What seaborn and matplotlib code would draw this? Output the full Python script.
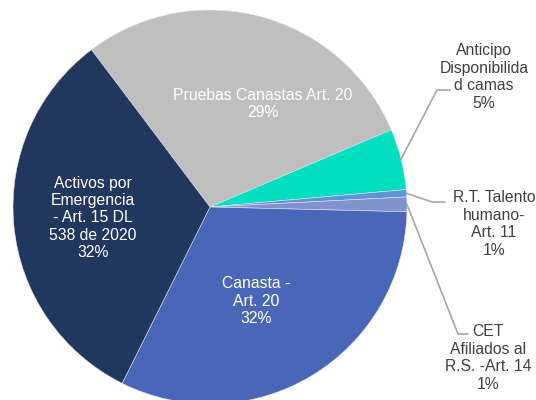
import numpy as np
import matplotlib
matplotlib.use("Agg")
from matplotlib import pyplot as plt
import seaborn as sns

# data, clockwise starting from the gray slice
labels = ["Pruebas Canastas Art. 20", "Anticipo\nDisponibilida\nd camas",
          "R.T. Talento\nhumano-\nArt. 11", "CET\nAfiliados al\nR.S. -Art. 14",
          "Canasta -\nArt. 20", "Activos por\nEmergencia\n- Art. 15 DL\n538 de 2020"]
shares = [28.9, 5.0, 0.6, 1.2, 32.0, 32.4]
pct_labels = ["29%", "5%", "1%", "1%", "32%", "32%"]
colors = ["#BFBFBF", "#00DFC0", "#5B95D6", "#8193CE", "#4A66B8", "#22375E"]

sns.set_theme(style="white")
plt.rcParams["font.family"] = ["Liberation Sans", "DejaVu Sans"]

W, H = 536, 400
cx, cy, r = 210, 207, 197  # pie centre / radius in pixels

fig = plt.figure(figsize=(W / 100, H / 100), dpi=100)
ax = fig.add_axes([(cx - r) / W, (H - cy - r) / H, 2 * r / W, 2 * r / H])
wedges, _ = ax.pie(shares, colors=colors, startangle=127, counterclock=False,
                   radius=1, wedgeprops=dict(linewidth=0.4, edgecolor="#dfe3f0"))
ax.set_xlim(-1, 1)
ax.set_ylim(-1, 1)
ax.set_aspect("equal")
ax.axis("off")


def to_data(px, py):
    return (px - cx) / r, (cy - py) / r


fs = 11.3
ls = 1.2
# inside labels (white)
inside = {0: (263, 104), 4: (256, 301), 5: (93, 218)}
for i, (px, py) in inside.items():
    x, y = to_data(px, py)
    txt = labels[i] + "\n" + pct_labels[i]
    ax.text(x, y, txt, ha="center", va="center", color="white", fontsize=fs,
            linespacing=ls, clip_on=False)

# outside labels with leader lines
outside = {
    1: dict(text=(484, 77), elbow=(437, 90), end=(450, 90), frac=0.5),
    2: dict(text=(494, 224), elbow=(432, 202), end=(445, 202), frac=0.5),
    3: dict(text=(488, 358), elbow=(458, 334), end=(468, 334), frac=0.5),
}
for i, o in outside.items():
    w = wedges[i]
    ang = np.deg2rad(w.theta1 + (w.theta2 - w.theta1) * o["frac"])
    x0, y0 = np.cos(ang), np.sin(ang)
    ex, ey = to_data(*o["elbow"])
    nx, ny = to_data(*o["end"])
    ax.plot([x0, ex, nx], [y0, ey, ny], color="#A6A6A6", lw=1.2, clip_on=False)
    tx, ty = to_data(*o["text"])
    ax.text(tx, ty, labels[i] + "\n" + pct_labels[i], ha="center", va="center",
            color="#404040", fontsize=fs, linespacing=ls, clip_on=False)

fig.savefig("out.png", dpi=100)
